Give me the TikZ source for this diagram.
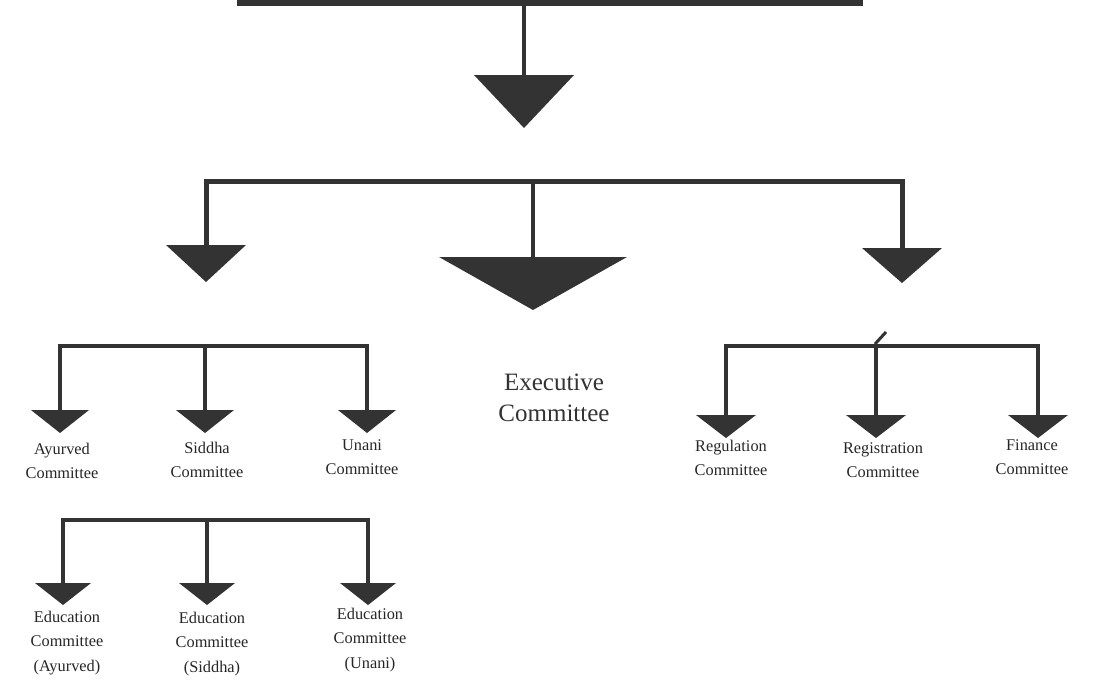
\documentclass[tikz,border=0pt]{standalone}
\usepackage{fontspec}
\setmainfont{Liberation Serif}
\usetikzlibrary{positioning}

\tikzset{
  conn/.style={line width=2.2pt, draw=black!80, line join=miter},
  tri/.style={fill=black!80},
  lbl/.style={align=center, font=\fontsize{9.8}{14.6}\selectfont, text=black!85, inner sep=0pt},
  biglbl/.style={align=center, font=\fontsize{15}{18.6}\selectfont, text=black!80, inner sep=0pt}
}

\begin{document}
\begin{tikzpicture}[x=0.6pt,y=-0.6pt]
\useasboundingbox (0,0) rectangle (1104,682);
% top bar and first arrow
\coordinate (topL) at (237,3);
\coordinate (topR) at (863,3);
\coordinate (topJ) at (524,3);
\coordinate (triA) at (524,75);
\draw [conn,line width=3.6pt] (topL) -- (topR);
\draw [conn] (topJ) -- (triA);
\fill [tri] (triA) ++(-50,0) -- ++(100,0) -- ++(-50,53) -- cycle;
% second level
\coordinate (midJ) at (533,181);
\coordinate (triB) at (206,245);
\coordinate (triC) at (533,257);
\coordinate (triD) at (902,248);
\draw [conn,line width=3pt] (triB) |- (midJ) -| (triD);
\draw [conn] (midJ) -- (triC);
\fill [tri] (triB) ++(-40,0) -- ++(80,0) -- ++(-40,37) -- cycle;
\fill [tri] (triC) ++(-94,0) -- ++(188,0) -- ++(-94,53) -- cycle;
\fill [tri] (triD) ++(-40,0) -- ++(80,0) -- ++(-40,35) -- cycle;
% left group
\coordinate (leftJ) at (205,346);
\coordinate (ayurT) at (60,410);
\coordinate (siddT) at (205,410);
\coordinate (unanT) at (367,410);
\draw [conn] (ayurT) |- (leftJ) -| (unanT);
\draw [conn] (leftJ) -- (siddT);
\foreach \t in {ayurT,siddT,unanT}
  \fill [tri] (\t) ++(-29,0) -- ++(58,0) -- ++(-29,23) -- cycle;
\node [lbl] (ayur) at (62,461) {Ayurved\\Committee};
\node [lbl] (sidd) at (207,460) {Siddha\\Committee};
\node [lbl] (unan) at (362,457) {Unani\\Committee};
% education group
\coordinate (eduJ) at (207,520);
\coordinate (eduAT) at (63,583);
\coordinate (eduST) at (207,583);
\coordinate (eduUT) at (368,583);
\draw [conn] (eduAT) |- (eduJ) -| (eduUT);
\draw [conn] (eduJ) -- (eduST);
\foreach \t in {eduAT,eduST,eduUT}
  \fill [tri] (\t) ++(-28,0) -- ++(56,0) -- ++(-28,22) -- cycle;
\node [lbl] (eduA) at (67,643) {Education\\Committee\\(Ayurved)};
\node [lbl] (eduS) at (212,644) {Education\\Committee\\(Siddha)};
\node [lbl] (eduU) at (370,640) {Education\\Committee\\(Unani)};
% executive
\node [biglbl] (exec) at (554,398) {Executive\\Committee};
% right group
\coordinate (rightJ) at (876,346);
\coordinate (reguT) at (726,415);
\coordinate (regiT) at (876,415);
\coordinate (finaT) at (1038,415);
\draw [conn] (reguT) |- (rightJ) -| (finaT);
\draw [conn] (rightJ) -- (regiT);
\foreach \t in {reguT,regiT,finaT}
  \fill [tri] (\t) ++(-30,0) -- ++(60,0) -- ++(-30,23) -- cycle;
\draw [conn,line width=1.8pt] (875,344) -- (886,332);
\node [lbl] (regu) at (731,458) {Regulation\\Committee};
\node [lbl] (regi) at (883,460) {Registration\\Committee};
\node [lbl] (fina) at (1032,457) {Finance\\Committee};
\end{tikzpicture}
\end{document}
